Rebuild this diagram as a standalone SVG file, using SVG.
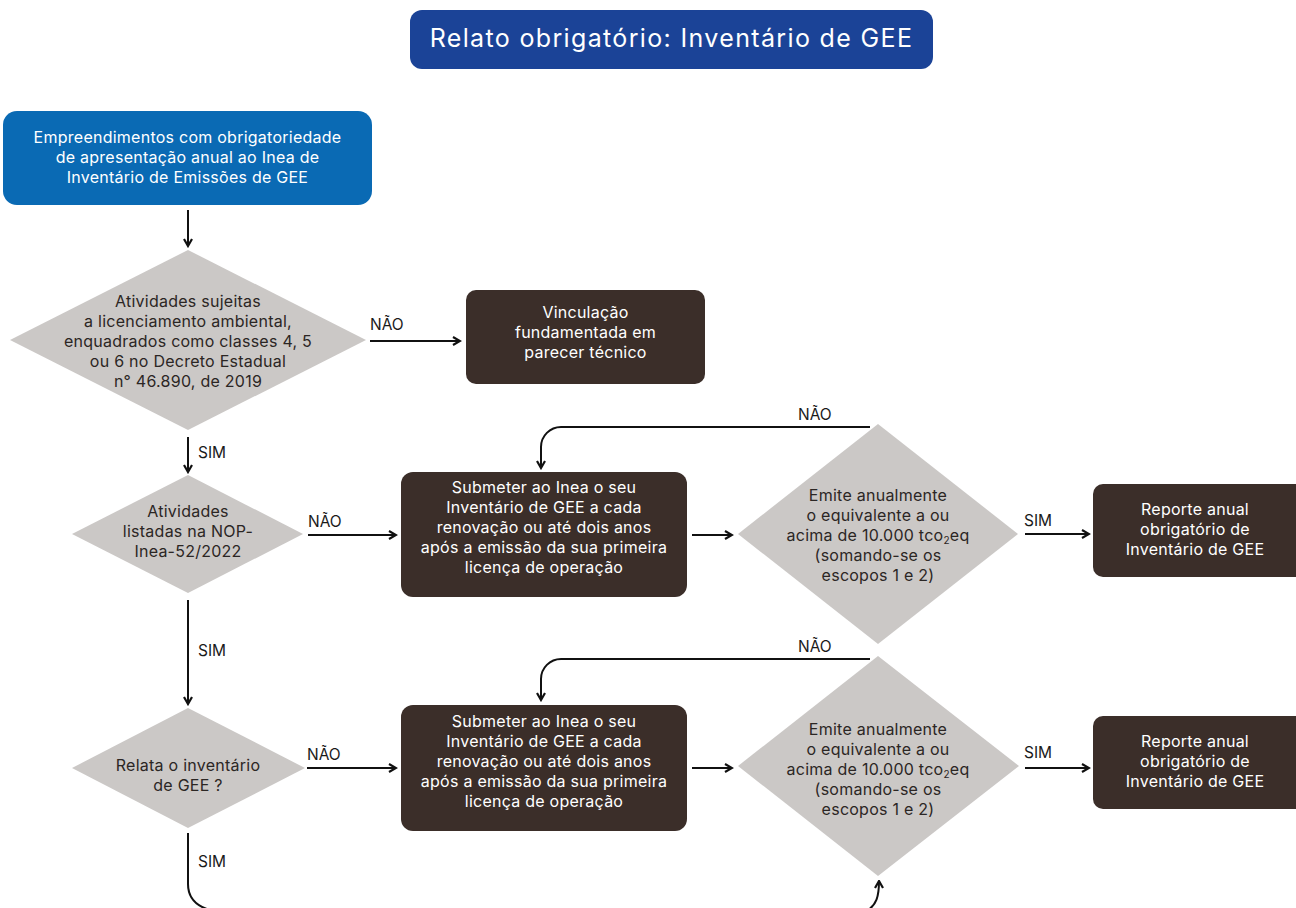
<svg xmlns="http://www.w3.org/2000/svg" width="1296" height="908" viewBox="0 0 1296 908">
<style>
text{font-family:Inter,"Liberation Sans",sans-serif;text-anchor:middle}
.w{fill:#ffffff;font-size:16px;letter-spacing:0.25px}
.d{fill:#2b2624;font-size:16px;letter-spacing:0.25px}
.lbl{fill:#1a1a1a;font-size:15.5px;text-anchor:start}
.dia{fill:#cbc8c6}
.dark{fill:#3b2e29}
.con path{fill:none;stroke:#111111;stroke-width:2}
</style>
<defs>
<marker id="ah" viewBox="0 0 10 10" refX="8.5" refY="5" markerWidth="10" markerHeight="10" orient="auto" markerUnits="userSpaceOnUse">
<path d="M1.5,1 L8.5,5 L1.5,9" fill="none" stroke="#111111" stroke-width="2.2"/>
</marker>
</defs>
<rect width="1296" height="908" fill="#ffffff"/>

<g id="title">
<rect x="410" y="10" width="523" height="59" rx="12" fill="#1b4397"/>
<text x="671.5" y="47" fill="#ffffff" style="font-size:25px;letter-spacing:1.35px">Relato obrigatório: Inventário de GEE</text>
</g>

<g id="n-empreendimentos">
<rect x="3" y="111" width="369" height="94" rx="14" fill="#0a6ab4"/>
<text class="w" x="187.5" y="143">Empreendimentos com obrigatoriedade</text>
<text class="w" x="187.5" y="163">de apresentação anual ao Inea de</text>
<text class="w" x="187.5" y="183">Inventário de Emissões de GEE</text>
</g>

<g id="n-atividades-sujeitas">
<polygon class="dia" points="188,250 366,340 188,430 10,340"/>
<text class="d" x="188" y="307">Atividades sujeitas</text>
<text class="d" x="188" y="327">a licenciamento ambiental,</text>
<text class="d" x="188" y="347">enquadrados como classes 4, 5</text>
<text class="d" x="188" y="367">ou 6 no Decreto Estadual</text>
<text class="d" x="188" y="387">n° 46.890, de 2019</text>
</g>

<g id="n-vinculacao">
<rect x="466" y="290" width="239" height="94" rx="10" class="dark"/>
<text class="w" x="585.5" y="318">Vinculação</text>
<text class="w" x="585.5" y="338">fundamentada em</text>
<text class="w" x="585.5" y="358">parecer técnico</text>
</g>

<g id="n-atividades-listadas">
<polygon class="dia" points="188,475 303,534 188,593 72,534"/>
<text class="d" x="188" y="517">Atividades</text>
<text class="d" x="188" y="537">listadas na NOP-</text>
<text class="d" x="188" y="557">Inea-52/2022</text>
</g>

<g id="n-submeter-1">
<rect x="401" y="472" width="286" height="125" rx="12" class="dark"/>
<text class="w" x="544" y="493">Submeter ao Inea o seu</text>
<text class="w" x="544" y="513">Inventário de GEE a cada</text>
<text class="w" x="544" y="533">renovação ou até dois anos</text>
<text class="w" x="544" y="553">após a emissão da sua primeira</text>
<text class="w" x="544" y="573">licença de operação</text>
</g>

<g id="n-emite-1">
<polygon class="dia" points="878,424 1018,534 878,644 738,534"/>
<text class="d" x="878" y="501">Emite anualmente</text>
<text class="d" x="878" y="521">o equivalente a ou</text>
<text class="d" x="878" y="541">acima de 10.000 tco<tspan style="font-size:10px" dy="3">2</tspan><tspan dy="-3">eq</tspan></text>
<text class="d" x="878" y="561">(somando-se os</text>
<text class="d" x="878" y="581">escopos 1 e 2)</text>
</g>

<g id="n-reporte-1">
<rect x="1093" y="484" width="215" height="93" rx="10" class="dark"/>
<text class="w" x="1195" y="515">Reporte anual</text>
<text class="w" x="1195" y="535">obrigatório de</text>
<text class="w" x="1195" y="555">Inventário de GEE</text>
</g>

<g id="n-relata">
<polygon class="dia" points="188,708 305,768 188,828 72,768"/>
<text class="d" x="188" y="771">Relata o inventário</text>
<text class="d" x="188" y="791">de GEE ?</text>
</g>

<g id="n-submeter-2">
<rect x="401" y="705" width="286" height="126" rx="12" class="dark"/>
<text class="w" x="544" y="727">Submeter ao Inea o seu</text>
<text class="w" x="544" y="747">Inventário de GEE a cada</text>
<text class="w" x="544" y="767">renovação ou até dois anos</text>
<text class="w" x="544" y="787">após a emissão da sua primeira</text>
<text class="w" x="544" y="807">licença de operação</text>
</g>

<g id="n-emite-2">
<polygon class="dia" points="878,656 1019,766 878,876 738,766"/>
<text class="d" x="878" y="735">Emite anualmente</text>
<text class="d" x="878" y="755">o equivalente a ou</text>
<text class="d" x="878" y="775">acima de 10.000 tco<tspan style="font-size:10px" dy="3">2</tspan><tspan dy="-3">eq</tspan></text>
<text class="d" x="878" y="795">(somando-se os</text>
<text class="d" x="878" y="815">escopos 1 e 2)</text>
</g>

<g id="n-reporte-2">
<rect x="1093" y="716" width="215" height="93" rx="10" class="dark"/>
<text class="w" x="1195" y="747">Reporte anual</text>
<text class="w" x="1195" y="767">obrigatório de</text>
<text class="w" x="1195" y="787">Inventário de GEE</text>
</g>

<g id="connectors" class="con">
<path d="M188,210 V246" marker-end="url(#ah)"/>
<path d="M370,341 H460" marker-end="url(#ah)"/>
<path d="M188,437 V472" marker-end="url(#ah)"/>
<path d="M308,535 H396" marker-end="url(#ah)"/>
<path d="M692,535 H732" marker-end="url(#ah)"/>
<path d="M870,427 H561 A20,20 0 0 0 541,447 V468" marker-end="url(#ah)"/>
<path d="M1025,534 H1089" marker-end="url(#ah)"/>
<path d="M188,600 V704" marker-end="url(#ah)"/>
<path d="M307,768 H396" marker-end="url(#ah)"/>
<path d="M692,768 H732" marker-end="url(#ah)"/>
<path d="M870,659 H561 A20,20 0 0 0 541,679 V700" marker-end="url(#ah)"/>
<path d="M1025,768 H1089" marker-end="url(#ah)"/>
<path d="M188,833 V884 C188,898 196,906 210,910"/>
<path d="M868,910 C876,905 879,897 879,881" marker-end="url(#ah)"/>
</g>

<g id="labels">
<text class="lbl" x="370" y="330">NÃO</text>
<text class="lbl" x="198" y="458">SIM</text>
<text class="lbl" x="308" y="527">NÃO</text>
<text class="lbl" x="798" y="420">NÃO</text>
<text class="lbl" x="1024" y="526">SIM</text>
<text class="lbl" x="198" y="656">SIM</text>
<text class="lbl" x="307" y="760">NÃO</text>
<text class="lbl" x="798" y="652">NÃO</text>
<text class="lbl" x="1024" y="758">SIM</text>
<text class="lbl" x="198" y="867">SIM</text>
</g>
</svg>
